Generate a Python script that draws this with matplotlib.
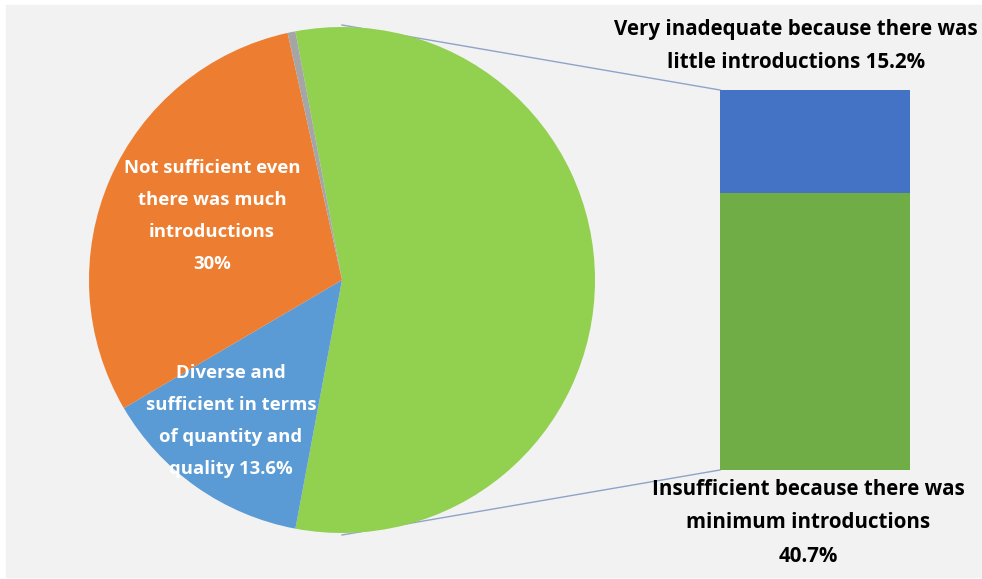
import matplotlib.pyplot as plt
from matplotlib.patches import Rectangle

# pie slices (percent), clockwise from the top
pie_labels = ["Insufficient (combined)", "Diverse and sufficient", "Not sufficient", "Other"]
pie_values = [15.2 + 40.7, 13.6, 30.0, 0.5]
pie_colors = ["#92d050", "#5b9bd5", "#ed7d31", "#a5a5a5"]

# stacked bar that breaks down the green slice
bar_values = [40.7, 15.2]
bar_colors = ["#70ad47", "#4472c4"]

plt.rcParams['font.family'] = ['Open Sans', 'DejaVu Sans']

fig = plt.figure(figsize=(9.82, 5.79), dpi=100)
fig.patch.set_facecolor("white")
ax = fig.add_axes([0, 0, 1, 1])

ax.add_patch(Rectangle((6, 2), 976, 572, color="#f2f2f2", zorder=0))

# pie, green slice centred on the right-hand side
cx, cy, r = 342, 299, 253
start = 360 * pie_values[0] / 100 / 2
ax.pie(pie_values, colors=pie_colors, startangle=start, counterclock=False,
       center=(cx, cy), radius=r, frame=True,
       wedgeprops=dict(linewidth=0, zorder=2))

# stacked bar, scaled so its total height matches the green slice
bar_x, bar_w, bar_bottom, bar_h = 815, 190, 109, 380
scale = bar_h / sum(bar_values)
bottom = bar_bottom
for v, c in zip(bar_values, bar_colors):
    ax.bar(bar_x, v * scale, width=bar_w, bottom=bottom, color=c, zorder=2)
    bottom += v * scale

# connector lines from the pie's top/bottom to the bar corners
lc = "#8fa3c8"
ax.plot([cx, bar_x - bar_w / 2], [cy + r + 2, bottom], color=lc, lw=1, zorder=1)
ax.plot([cx, bar_x - bar_w / 2], [cy - r - 2, bar_bottom], color=lc, lw=1, zorder=1)

# labels inside the pie are a bit smaller than the ones by the bar
pie_fs, pie_ls = 13.3, 1.98
side_fs, side_ls = 14.8, 1.8
ax.text(212, 363, "Not sufficient even\nthere was much\nintroductions\n30%",
        color="white", fontsize=pie_fs, fontweight="bold", ha="center", va="center",
        linespacing=pie_ls, zorder=3)
ax.text(231, 158, "Diverse and\nsufficient in terms\nof quantity and\nquality 13.6%",
        color="white", fontsize=pie_fs, fontweight="bold", ha="center", va="center",
        linespacing=pie_ls, zorder=3)
ax.text(796, 533, "Very inadequate because there was\nlittle introductions 15.2%",
        color="black", fontsize=side_fs, fontweight="bold", ha="center", va="center",
        linespacing=side_ls, zorder=3)
ax.text(808, 56, "Insufficient because there was\nminimum introductions\n40.7%",
        color="black", fontsize=side_fs, fontweight="bold", ha="center", va="center",
        linespacing=side_ls, zorder=3)

ax.set_xlim(0, 982)
ax.set_ylim(0, 579)
ax.set_aspect("auto")
ax.axis("off")

fig.savefig("out.png", dpi=100, facecolor=fig.get_facecolor())
